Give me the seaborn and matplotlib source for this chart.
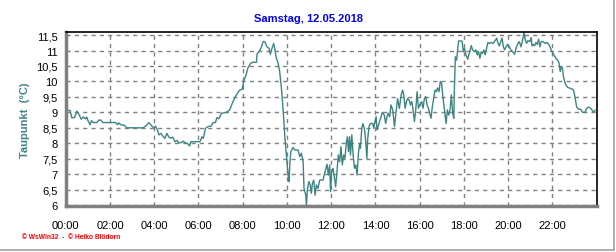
import matplotlib
matplotlib.use("Agg")
import matplotlib.pyplot as plt
from matplotlib.lines import Line2D
from matplotlib.ticker import FixedLocator, MultipleLocator, FuncFormatter
import seaborn as sns
import pandas as pd

title = "Samstag, 12.05.2018"
ylabel = "Taupunkt  (°C)"
footer = "© WsWin32  -  © Heiko Blödorn"

hours = [
    0.0, 0.2, 0.27, 0.4, 0.5, 0.6, 0.7, 0.8, 0.89, 0.95, 1.0, 1.1, 1.16, 1.25, 1.4, 1.5, 1.6, 1.67,
    2.26, 2.33, 2.4, 2.48, 2.66, 2.75, 3.5, 3.65, 3.76, 3.86, 3.98, 4.06, 4.14, 4.21, 4.3, 4.39,
    4.48, 4.57, 4.66, 4.75, 4.84, 4.93, 5.02, 5.11, 5.23, 5.32, 5.41, 5.5, 5.6, 5.65, 5.95, 6.06,
    6.16, 6.22, 6.31, 6.43, 6.58, 6.66, 6.77, 6.83, 6.92, 7.04, 7.26, 7.41, 7.56, 7.71, 7.86, 7.97,
    8.06, 8.12, 8.17, 8.24, 8.36, 8.45, 8.62, 8.65, 8.74, 8.85, 8.92, 8.99, 9.1, 9.19, 9.25, 9.3,
    9.4, 9.45, 9.52, 9.6, 9.67, 9.75, 9.82, 9.87, 9.91, 9.96, 10.0, 10.05, 10.09, 10.14, 10.18,
    10.27, 10.36, 10.5, 10.58, 10.65, 10.73, 10.77, 10.85, 10.88, 10.92, 10.99, 11.05, 11.1, 11.15,
    11.21, 11.27, 11.33, 11.4, 11.48, 11.63, 11.7, 11.81, 11.87, 11.93, 11.97, 12.02, 12.08, 12.14,
    12.2, 12.26, 12.32, 12.38, 12.44, 12.5, 12.56, 12.62, 12.68, 12.73, 12.78, 12.83, 12.87, 12.93,
    12.99, 13.05, 13.11, 13.17, 13.23, 13.28, 13.32, 13.38, 13.43, 13.5, 13.56, 13.61, 13.65, 13.71,
    13.77, 13.88, 13.92, 13.98, 14.03, 14.07, 14.16, 14.25, 14.31, 14.4, 14.46, 14.52, 14.58, 14.64,
    14.7, 14.78, 14.86, 14.93, 15.0, 15.08, 15.16, 15.23, 15.28, 15.34, 15.4, 15.46, 15.52, 15.58,
    15.64, 15.7, 15.76, 15.82, 15.88, 15.94, 16.0, 16.09, 16.15, 16.21, 16.27, 16.33, 16.39, 16.45,
    16.51, 16.57, 16.63, 16.69, 16.75, 16.81, 16.87, 16.93, 16.99, 17.04, 17.1, 17.16, 17.19, 17.25,
    17.31, 17.37, 17.43, 17.49, 17.54, 17.57, 17.61, 17.67, 17.72, 17.76, 17.91, 17.97, 18.02, 18.09,
    18.17, 18.24, 18.33, 18.39, 18.48, 18.54, 18.6, 18.66, 18.72, 18.78, 18.84, 18.9, 18.96, 19.02,
    19.08, 19.14, 19.23, 19.32, 19.42, 19.48, 19.54, 19.6, 19.66, 19.72, 19.78, 19.84, 19.9, 19.97,
    20.05, 20.12, 20.2, 20.29, 20.35, 20.44, 20.5, 20.58, 20.65, 20.71, 20.77, 20.83, 20.89, 20.98,
    21.04, 21.07, 21.13, 21.19, 21.25, 21.31, 21.37, 21.43, 21.49, 21.58, 21.67, 21.76, 21.85, 21.93,
    22.0, 22.08, 22.15, 22.23, 22.3, 22.35, 22.4, 22.45, 22.5, 22.58, 22.68, 22.75, 22.83, 22.9,
    22.95, 23.03, 23.09, 23.18, 23.28, 23.36, 23.48, 23.54, 23.63, 23.73, 23.84, 23.9, 23.93,
]

dewpoint = [
    9.06, 9.06, 8.83, 8.83, 9.04, 8.93, 8.78, 8.85, 8.79, 8.85, 8.74, 8.6, 8.73, 8.67, 8.67, 8.75, 8.75, 8.67,
    8.67, 8.6, 8.66, 8.6, 8.58, 8.5, 8.5, 8.58, 8.67, 8.58, 8.5, 8.55, 8.44, 8.27, 8.32, 8.23,
    8.16, 8.32, 8.2, 8.16, 8.2, 8.05, 8.09, 8.02, 8.02, 8.07, 8.0, 8.0, 7.91, 8.05, 8.05, 8.05,
    8.21, 8.16, 8.48, 8.54, 8.56, 8.67, 8.67, 8.83, 8.79, 8.97, 9.0, 9.08, 9.35, 9.56, 9.72, 9.74,
    10.05, 10.15, 10.26, 10.45, 10.59, 10.62, 10.62, 10.9, 10.96, 11.12, 11.29, 11.29, 11.12, 11.07, 10.88, 11.02,
    11.23, 11.05, 10.75, 10.59, 10.32, 9.78, 9.13, 8.59, 8.16, 7.73, 7.35, 6.97, 6.76, 7.46, 7.73,
    7.86, 7.78, 7.78, 7.57, 7.68, 7.4, 6.54, 6.32, 6.0, 6.49, 6.76, 6.65, 6.38, 6.7,
    6.81, 6.32, 6.65, 6.54, 6.81, 6.81, 7.03, 7.32, 6.97, 7.3, 6.43, 7.08, 7.19, 6.92,
    6.59, 7.08, 7.62, 7.4, 7.89, 7.3, 7.62, 7.51, 8.0, 8.21, 7.73, 8.21, 7.62, 8.27,
    7.62, 7.19, 7.3, 6.97, 7.67, 7.99, 7.84, 8.48, 8.64, 8.48, 8.05, 7.51, 8.16, 8.54,
    8.64, 8.64, 8.48, 8.7, 8.86, 8.43, 8.64, 8.86, 9.0, 8.91, 8.64, 8.86, 8.97, 8.86,
    9.24, 9.08, 8.54, 9.02, 9.45, 9.13, 9.56, 9.72, 9.56, 9.13, 9.35, 9.45, 9.4, 9.24,
    9.35, 9.08, 8.7, 9.08, 9.67, 9.13, 9.24, 9.35, 9.13, 9.45, 9.51, 9.24, 9.13, 8.97,
    8.81, 9.18, 9.45, 9.72, 9.67, 9.79, 9.67, 10.0, 9.94, 9.56, 9.18, 8.81, 8.64, 9.08,
    8.91, 9.08, 9.56, 8.97, 8.81, 9.83, 10.8, 10.69, 11.07, 11.31, 11.31, 10.96, 11.07, 10.86,
    10.72, 10.91, 11.16, 11.02, 10.96, 11.02, 10.86, 10.96, 10.75, 10.96, 10.91, 11.02, 10.86, 11.07,
    11.26, 11.23, 11.26, 11.23, 11.34, 11.4, 11.23, 11.15, 11.29, 11.4, 11.12, 11.02, 11.12, 11.2,
    11.12, 11.02, 10.96, 10.88, 11.07, 11.23, 11.29, 11.12, 11.34, 11.59, 11.34, 11.23, 11.32, 11.29,
    11.42, 11.15, 11.2, 11.15, 11.26, 11.2, 11.37, 11.12, 11.29, 11.29, 11.23, 11.26, 11.18, 11.05,
    10.94, 10.84, 10.75, 10.69, 10.59, 10.32, 10.48, 10.43, 10.14, 9.92, 9.81, 9.79, 9.77, 9.75,
    9.72, 9.45, 9.18, 9.1, 9.1, 9.0, 9.0, 9.13, 9.17, 9.13, 9.02, 9.04, 9.07,
]

y_ticks = [6, 6.5, 7, 7.5, 8, 8.5, 9, 9.5, 10, 10.5, 11, 11.5]
x_ticks = [0, 2, 4, 6, 8, 10, 12, 14, 16, 18, 20, 22]

sns.set_theme(style="white")
plt.rcParams["font.family"] = ["Liberation Sans", "DejaVu Sans"]

df = pd.DataFrame({"h": hours, "v": dewpoint})

fig = plt.figure(figsize=(6.16, 2.53), dpi=100)
fig.patch.set_facecolor("white")
ax = fig.add_axes([0.1067, 0.1818, 0.862, 0.6878])
ax.set_facecolor("white")

sns.lineplot(data=df, x="h", y="v", ax=ax, color="#3c8584", linewidth=1.0,
             sort=False, estimator=None)

ax.set_xlim(0, 24)
ax.set_ylim(5.97, 11.6)

ax.xaxis.set_major_locator(FixedLocator(x_ticks))
ax.xaxis.set_minor_locator(MultipleLocator(0.5))
ax.xaxis.set_major_formatter(FuncFormatter(lambda v, p: f"{int(round(v)):02d}:00"))
ax.yaxis.set_major_locator(FixedLocator(y_ticks))
ax.yaxis.set_minor_locator(MultipleLocator(0.1))
ax.yaxis.set_major_formatter(FuncFormatter(lambda v, p: (f"{v:g}").replace(".", ",")))

ax.grid(True, which="major", color="#808080", linestyle=(0, (3, 3)), linewidth=1.0)
ax.tick_params(axis="both", which="major", labelsize=8, colors="#808080", labelcolor="black",
               length=4, width=1, direction="out", pad=2)
ax.tick_params(axis="both", which="minor", colors="#808080", length=2.5, width=1, direction="out")
ax.tick_params(axis="x", which="major", pad=6)

for s in ["top", "right"]:
    ax.spines[s].set_color("black")
    ax.spines[s].set_linewidth(1.2)
for s in ["left", "bottom"]:
    ax.spines[s].set_color("#808080")
    ax.spines[s].set_linewidth(2.5)

ax.set_xlabel("")
ax.set_ylabel("")

fig.text(0.5, 0.925, title, ha="center", va="center", fontsize=8, fontweight="bold",
         color="#0000ff")
fig.text(0.04, 0.525, ylabel, ha="center", va="center", rotation=90, fontsize=8,
         fontweight="bold", color="#3c8584")
fig.text(0.036, 0.06, footer, ha="left", va="center", fontsize=4.8, fontweight="bold",
         color="#ff0000")

fig.add_artist(Line2D([0, 0.997], [0.006, 0.006], transform=fig.transFigure,
                      color="#a0a0a0", linewidth=1.2))
fig.add_artist(Line2D([0.997, 0.997], [0.006, 1.0], transform=fig.transFigure,
                      color="#a0a0a0", linewidth=1.2))

fig.savefig("out.png", dpi=100, facecolor="white")
